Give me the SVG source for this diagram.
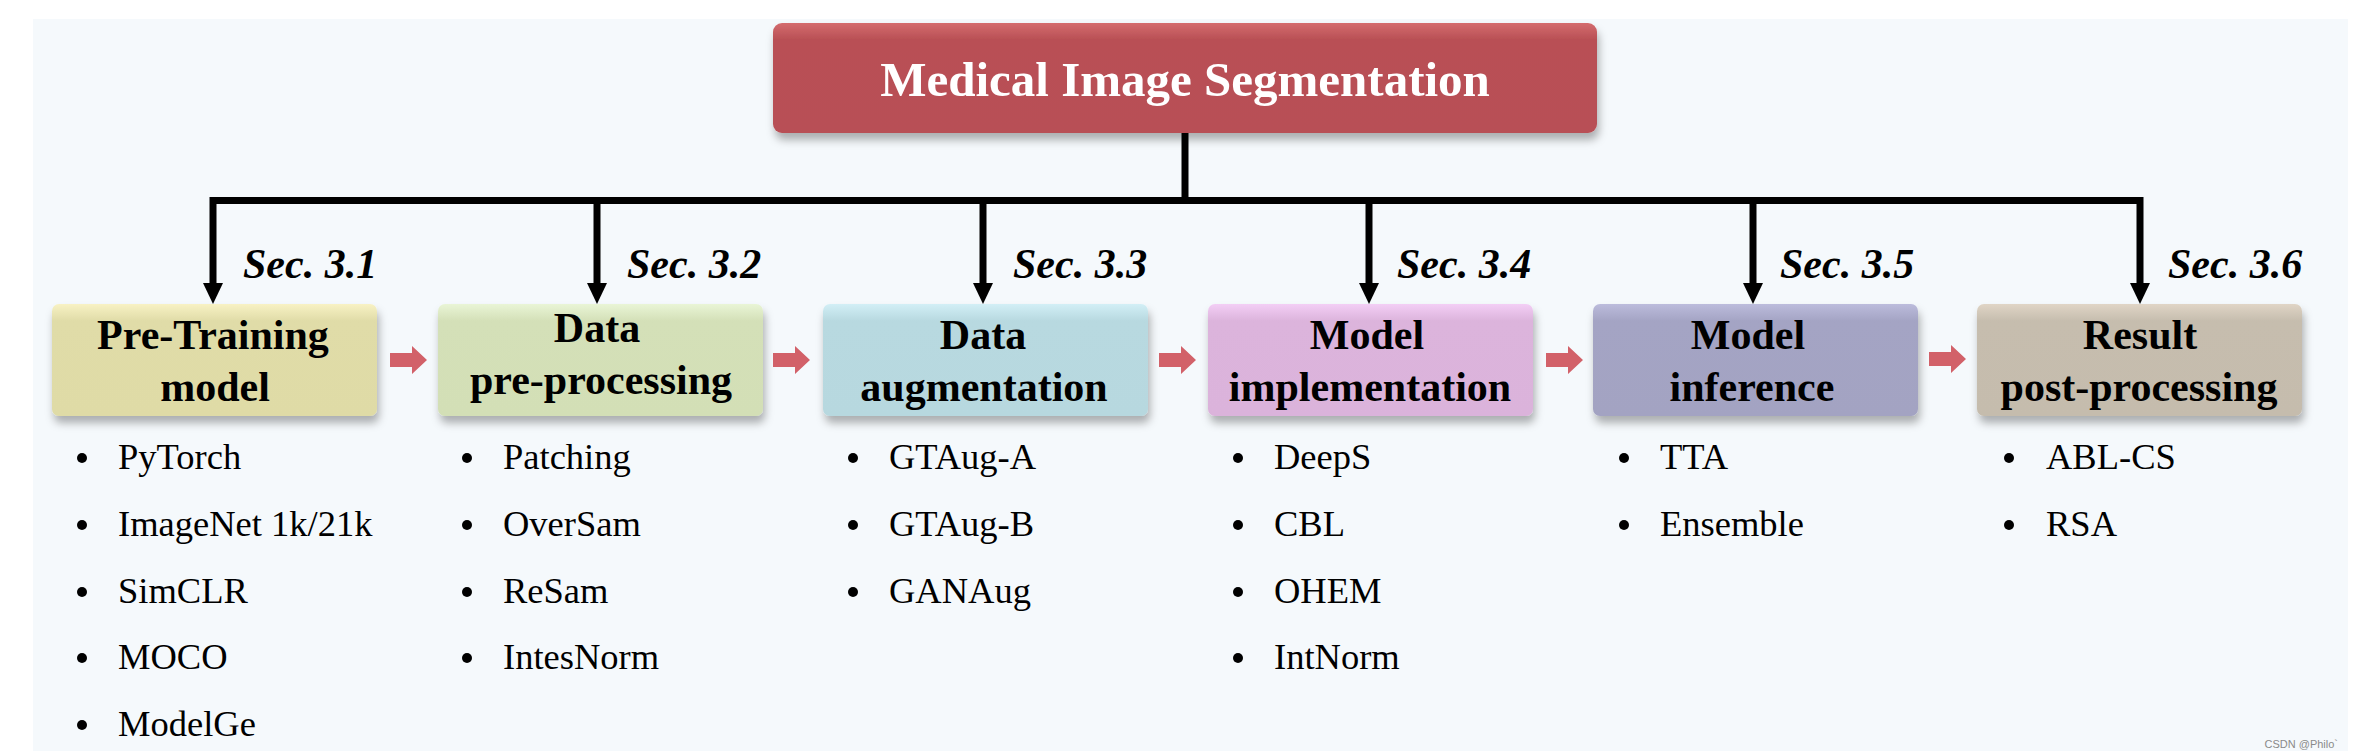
<svg xmlns="http://www.w3.org/2000/svg" width="2353" height="751" viewBox="0 0 2353 751">
<style>
.sec{font-family:"Liberation Serif","Times New Roman",serif;font-weight:bold;font-style:italic;font-size:42px;fill:#000}
.bt{font-family:"Liberation Serif","Times New Roman",serif;font-weight:bold;font-size:42px;fill:#000;text-anchor:middle}
.title{font-family:"Liberation Serif","Times New Roman",serif;font-weight:bold;font-size:49px;fill:#fff;text-anchor:middle}
.li{font-family:"Liberation Serif","Times New Roman",serif;font-size:36.5px;fill:#000}
.conn{fill:none;stroke:#000;stroke-width:7;stroke-linejoin:miter}
.blk{fill:#d26169}
</style>
<defs>
<filter id="sh" x="-10%" y="-20%" width="120%" height="160%">
<feDropShadow dx="2" dy="7" stdDeviation="4" flood-color="#000" flood-opacity="0.3"/>
</filter>
<linearGradient id="gT" x1="0" y1="0" x2="0" y2="1"><stop offset="0" stop-color="#d46c6e"/><stop offset="0.15" stop-color="#b95055"/><stop offset="1" stop-color="#b85056"/></linearGradient>
<linearGradient id="g1" x1="0" y1="0" x2="0" y2="1"><stop offset="0" stop-color="#f8f2c4"/><stop offset="0.15" stop-color="#e0dca8"/><stop offset="1" stop-color="#dfdba6"/></linearGradient>
<linearGradient id="g2" x1="0" y1="0" x2="0" y2="1"><stop offset="0" stop-color="#e9f5d6"/><stop offset="0.15" stop-color="#d4e0b8"/><stop offset="1" stop-color="#d3dfb6"/></linearGradient>
<linearGradient id="g3" x1="0" y1="0" x2="0" y2="1"><stop offset="0" stop-color="#d2eff6"/><stop offset="0.15" stop-color="#b8d9e0"/><stop offset="1" stop-color="#b7d8df"/></linearGradient>
<linearGradient id="g4" x1="0" y1="0" x2="0" y2="1"><stop offset="0" stop-color="#f3cef5"/><stop offset="0.15" stop-color="#dcb4dc"/><stop offset="1" stop-color="#dbb3db"/></linearGradient>
<linearGradient id="g5" x1="0" y1="0" x2="0" y2="1"><stop offset="0" stop-color="#bcbcdc"/><stop offset="0.15" stop-color="#a4a4c4"/><stop offset="1" stop-color="#a3a3c2"/></linearGradient>
<linearGradient id="g6" x1="0" y1="0" x2="0" y2="1"><stop offset="0" stop-color="#e0d5c6"/><stop offset="0.15" stop-color="#c6bdae"/><stop offset="1" stop-color="#c5bcad"/></linearGradient>
</defs>
<rect x="0" y="0" width="2353" height="751" fill="#ffffff"/>
<rect x="33" y="19" width="2315" height="732" fill="#f5f9fc"/>

<g id="connectors">
<path class="conn" d="M1185 133 V200.5"/>
<path class="conn" d="M213 284 V200.5 H2140 V284"/>
<path class="conn" d="M597 200.5 V284"/>
<path class="conn" d="M983 200.5 V284"/>
<path class="conn" d="M1369 200.5 V284"/>
<path class="conn" d="M1753 200.5 V284"/>
<polygon points="203,283 223,283 213,304"/>
<polygon points="587,283 607,283 597,304"/>
<polygon points="973,283 993,283 983,304"/>
<polygon points="1359,283 1379,283 1369,304"/>
<polygon points="1743,283 1763,283 1753,304"/>
<polygon points="2130,283 2150,283 2140,304"/>
<polygon class="blk" points="390,353 412,353 412,346 427,360 412,374 412,367 390,367"/>
<polygon class="blk" points="773,353 795,353 795,346 810,360 795,374 795,367 773,367"/>
<polygon class="blk" points="1159,353 1181,353 1181,346 1196,360 1181,374 1181,367 1159,367"/>
<polygon class="blk" points="1546,353 1568,353 1568,346 1583,360 1568,374 1568,367 1546,367"/>
<polygon class="blk" points="1929,352 1951,352 1951,345 1966,359 1951,373 1951,366 1929,366"/>
<text class="sec" x="243" y="278">Sec. 3.1</text>
<text class="sec" x="627" y="278">Sec. 3.2</text>
<text class="sec" x="1013" y="278">Sec. 3.3</text>
<text class="sec" x="1397" y="278">Sec. 3.4</text>
<text class="sec" x="1780" y="278">Sec. 3.5</text>
<text class="sec" x="2168" y="278">Sec. 3.6</text>
</g>

<g id="root">
<rect x="773" y="23" width="824" height="110" rx="9" fill="url(#gT)" filter="url(#sh)"/>
<text class="title" x="1185" y="96">Medical Image Segmentation</text>
</g>

<g id="n1">
<rect x="52" y="304" width="325" height="112" rx="7" fill="url(#g1)" filter="url(#sh)"/>
<text class="bt" x="213" y="349">Pre-Training</text>
<text class="bt" x="215" y="401">model</text>
<circle cx="82" cy="458" r="5"/><text class="li" x="118" y="469">PyTorch</text>
<circle cx="82" cy="525" r="5"/><text class="li" x="118" y="536">ImageNet 1k/21k</text>
<circle cx="82" cy="592" r="5"/><text class="li" x="118" y="603">SimCLR</text>
<circle cx="82" cy="658" r="5"/><text class="li" x="118" y="669">MOCO</text>
<circle cx="82" cy="725" r="5"/><text class="li" x="118" y="736">ModelGe</text>
</g>

<g id="n2">
<rect x="438" y="304" width="325" height="112" rx="7" fill="url(#g2)" filter="url(#sh)"/>
<text class="bt" x="597" y="342">Data</text>
<text class="bt" x="601" y="394">pre-processing</text>
<circle cx="467" cy="458" r="5"/><text class="li" x="503" y="469">Patching</text>
<circle cx="467" cy="525" r="5"/><text class="li" x="503" y="536">OverSam</text>
<circle cx="467" cy="592" r="5"/><text class="li" x="503" y="603">ReSam</text>
<circle cx="467" cy="658" r="5"/><text class="li" x="503" y="669">IntesNorm</text>
</g>

<g id="n3">
<rect x="823" y="304" width="325" height="112" rx="7" fill="url(#g3)" filter="url(#sh)"/>
<text class="bt" x="983" y="349">Data</text>
<text class="bt" x="984" y="401">augmentation</text>
<circle cx="853" cy="458" r="5"/><text class="li" x="889" y="469">GTAug-A</text>
<circle cx="853" cy="525" r="5"/><text class="li" x="889" y="536">GTAug-B</text>
<circle cx="853" cy="592" r="5"/><text class="li" x="889" y="603">GANAug</text>
</g>

<g id="n4">
<rect x="1208" y="304" width="325" height="112" rx="7" fill="url(#g4)" filter="url(#sh)"/>
<text class="bt" x="1367" y="349">Model</text>
<text class="bt" x="1370" y="401">implementation</text>
<circle cx="1238" cy="458" r="5"/><text class="li" x="1274" y="469">DeepS</text>
<circle cx="1238" cy="525" r="5"/><text class="li" x="1274" y="536">CBL</text>
<circle cx="1238" cy="592" r="5"/><text class="li" x="1274" y="603">OHEM</text>
<circle cx="1238" cy="658" r="5"/><text class="li" x="1274" y="669">IntNorm</text>
</g>

<g id="n5">
<rect x="1593" y="304" width="325" height="112" rx="7" fill="url(#g5)" filter="url(#sh)"/>
<text class="bt" x="1748" y="349">Model</text>
<text class="bt" x="1752" y="401">inference</text>
<circle cx="1624" cy="458" r="5"/><text class="li" x="1660" y="469">TTA</text>
<circle cx="1624" cy="525" r="5"/><text class="li" x="1660" y="536">Ensemble</text>
</g>

<g id="n6">
<rect x="1977" y="304" width="325" height="112" rx="7" fill="url(#g6)" filter="url(#sh)"/>
<text class="bt" x="2140" y="349">Result</text>
<text class="bt" x="2139" y="401">post-processing</text>
<circle cx="2009" cy="458" r="5"/><text class="li" x="2046" y="469">ABL-CS</text>
<circle cx="2009" cy="525" r="5"/><text class="li" x="2046" y="536">RSA</text>
</g>

<text x="2338" y="748" font-family="Liberation Sans, Arial, sans-serif" font-size="11" fill="#8a8a8a" text-anchor="end">CSDN @Philo`</text>
</svg>
